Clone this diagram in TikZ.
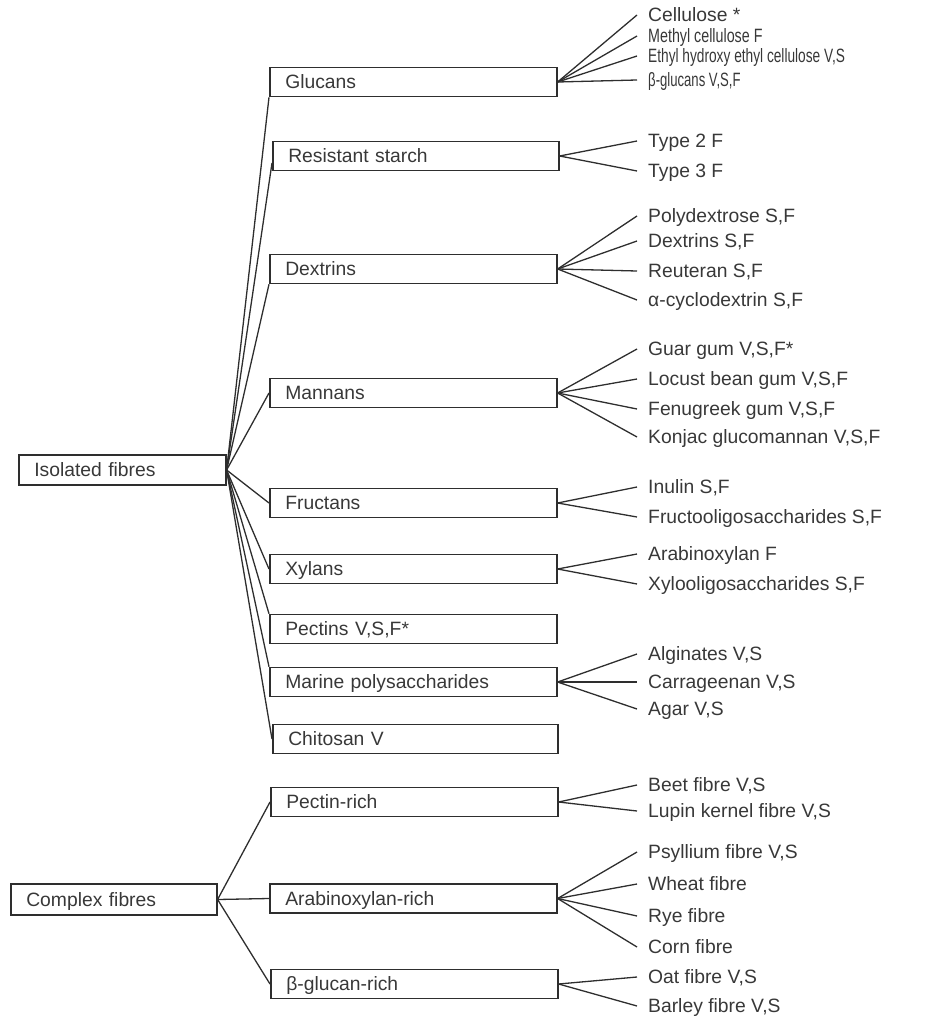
\documentclass[tikz,border=0pt]{standalone}
\usepackage{fontspec}
\setmainfont{Liberation Sans}
\usepackage{graphicx}
\definecolor{ink}{HTML}{2E2E2E}
\definecolor{txt}{HTML}{383838}
\begin{document}
\begin{tikzpicture}[x=1pt,y=-1pt,
  every node/.style={font=\fontsize{19.3pt}{22pt}\selectfont, text=txt},
  cat/.style={draw=ink, line width=1.6pt, anchor=west, minimum height=29pt,
    inner xsep=15.5pt, inner ysep=0pt, text width=256pt, align=left,
    text height=13.8pt, text depth=0pt},
  rootbox/.style={cat, text width=176pt, minimum height=30pt},
  leaf/.style={anchor=west, inner xsep=11pt, inner ysep=0pt,
    text height=13.8pt, text depth=0pt},
  link/.style={draw=ink, line width=1.3pt}]
\useasboundingbox (0,0) rectangle (930,1019);

% ---- roots ----
\node[rootbox] (iso) at (18,470) {Isolated fibres};
\node[rootbox, text width=175pt, minimum height=31pt] (complex) at (10,899.5) {Complex fibres};

% ---- categories of isolated fibres ----
\node[cat] (glucans)  at (269,82)  {Glucans};
\node[cat, text width=255pt] (rstarch) at (272,156) {Resistant starch};
\node[cat] (dextrins) at (269,269) {Dextrins};
\node[cat] (mannans)  at (269,393) {Mannans};
\node[cat] (fructans) at (269,503) {Fructans};
\node[cat] (xylans)   at (269,569) {Xylans};
\node[cat] (pectins)  at (269,629) {Pectins V,S,F*};
\node[cat] (marine)   at (269,682) {Marine polysaccharides};
\node[cat, text width=254pt] (chitosan) at (272,739) {Chitosan V};

% ---- categories of complex fibres ----
\node[cat] (pectinrich) at (270,802)   {Pectin-rich};
\node[cat] (axrich)     at (269,898.5) {Arabinoxylan-rich};
\node[cat] (bgrich)     at (270,984)   {β-glucan-rich};

% ---- leaves ----
\node[leaf] (cell)   at (637,15)  {Cellulose *};
\node[leaf] (mcell)  at (637,36)  {\scalebox{0.74}[1]{Methyl cellulose F}};
\node[leaf] (ehec)   at (637,56)  {\scalebox{0.71}[1]{Ethyl hydroxy ethyl cellulose V,S}};
\node[leaf] (bglu)   at (637,80)  {\scalebox{0.68}[1]{β-glucans V,S,F}};

\node[leaf] (type2)  at (637,141) {Type 2 F};
\node[leaf] (type3)  at (637,171) {Type 3 F};

\node[leaf] (polyd)  at (637,216) {Polydextrose S,F};
\node[leaf] (dext)   at (637,241) {Dextrins S,F};
\node[leaf] (reut)   at (637,271) {Reuteran S,F};
\node[leaf] (acyc)   at (637,300) {α-cyclodextrin S,F};

\node[leaf] (guar)   at (637,349) {Guar gum V,S,F*};
\node[leaf] (locust) at (637,379) {Locust bean gum V,S,F};
\node[leaf] (fenu)   at (637,409) {Fenugreek gum V,S,F};
\node[leaf] (konjac) at (637,437) {Konjac glucomannan V,S,F};

\node[leaf] (inulin) at (637,487) {Inulin S,F};
\node[leaf] (fos)    at (637,517) {Fructooligosaccharides S,F};

\node[leaf] (arax)   at (637,554) {Arabinoxylan F};
\node[leaf] (xos)    at (637,584) {Xylooligosaccharides S,F};

\node[leaf] (algin)  at (637,654) {Alginates V,S};
\node[leaf] (carra)  at (637,682) {Carrageenan V,S};
\node[leaf] (agar)   at (637,709) {Agar V,S};

\node[leaf] (beet)   at (637,785) {Beet fibre V,S};
\node[leaf] (lupin)  at (637,811) {Lupin kernel fibre V,S};

\node[leaf] (psyl)   at (637,852) {Psyllium fibre V,S};
\node[leaf] (wheat)  at (637,884) {Wheat fibre};
\node[leaf] (rye)    at (637,916) {Rye fibre};
\node[leaf] (corn)   at (637,947) {Corn fibre};

\node[leaf] (oat)    at (637,977)  {Oat fibre V,S};
\node[leaf] (barley) at (637,1006) {Barley fibre V,S};

% ---- root connectors ----
\draw[link] (iso.east) -- (glucans.south west);
\draw[link] (iso.east) -- ([yshift=-7pt]rstarch.west);
\draw[link] (iso.east) -- (dextrins.south west);
\draw[link] (iso.east) -- (mannans.west);
\draw[link] (iso.east) -- (fructans.west);
\draw[link] (iso.east) -- (xylans.west);
\draw[link] (iso.east) -- (pectins.north west);
\draw[link] (iso.east) -- (marine.north west);
\draw[link] (iso.east) -- (chitosan.west);

\draw[link] (complex.east) -- (pectinrich.west);
\draw[link] (complex.east) -- (axrich.west);
\draw[link] (complex.east) -- (bgrich.west);

% ---- leaf connectors ----
\foreach \p/\l in {glucans/cell, glucans/mcell, glucans/ehec, glucans/bglu,
    rstarch/type2, rstarch/type3,
    dextrins/polyd, dextrins/dext, dextrins/reut, dextrins/acyc,
    mannans/guar, mannans/locust, mannans/fenu, mannans/konjac,
    fructans/inulin, fructans/fos,
    xylans/arax, xylans/xos,
    marine/algin, marine/carra, marine/agar,
    pectinrich/beet, pectinrich/lupin,
    axrich/psyl, axrich/wheat, axrich/rye, axrich/corn,
    bgrich/oat, bgrich/barley}
  \draw[link] (\p.east) -- (\l.west);
\end{tikzpicture}
\end{document}
